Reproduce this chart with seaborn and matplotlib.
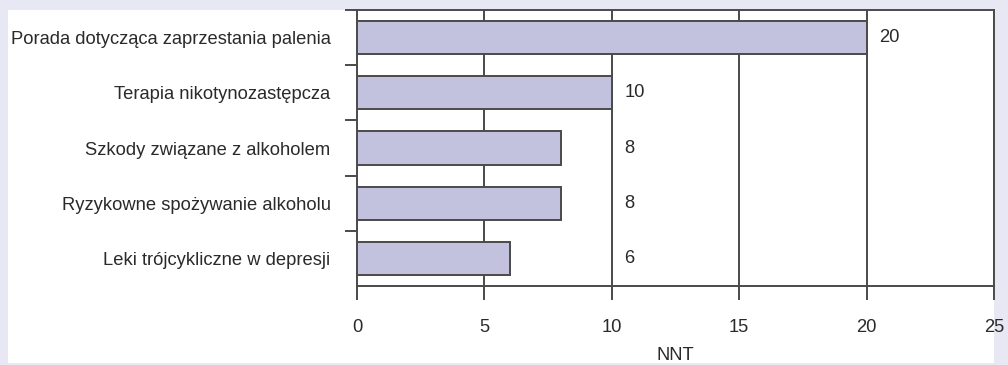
import matplotlib
matplotlib.use("Agg")
import matplotlib.pyplot as plt
from matplotlib.patches import Rectangle
import seaborn as sns
import pandas as pd

# NNT values for brief interventions in primary care
categories = [
    "Porada dotycząca zaprzestania palenia",
    "Terapia nikotynozastępcza",
    "Szkody związane z alkoholem",
    "Ryzykowne spożywanie alkoholu",
    "Leki trójcykliczne w depresji",
]
nnt = [20, 10, 8, 8, 6]
x_ticks = [0, 5, 10, 15, 20, 25]
x_label = "NNT"

df = pd.DataFrame({"category": categories, "nnt": nnt})

sns.set_theme(style="white")
plt.rcParams["font.family"] = ["Liberation Sans", "DejaVu Sans"]

BG = "#e8e8f4"
BAR = "#c2c2de"
INK = "#4a4a4a"
TXT = "#2a2a2a"
FS = 13.2

W, H = 1008, 365
fig = plt.figure(figsize=(W / 100, H / 100), dpi=100, facecolor=BG)

# white panel behind the chart
panel = Rectangle((8 / W, 2 / H), (994 - 8) / W, (355 - 2) / H,
                  transform=fig.transFigure, facecolor="white",
                  edgecolor="none", zorder=-10)
fig.add_artist(panel)

ax = fig.add_axes([357 / W, 1 - 286 / H, (994 - 357) / W, (286 - 10) / H])
ax.set_facecolor("white")

sns.barplot(data=df, x="nnt", y="category", orient="h", ax=ax,
            color=BAR, saturation=1, width=0.6,
            edgecolor=INK, linewidth=1.4, zorder=3)

ax.set_xlim(0, 25)
ax.set_ylim(4.5, -0.5)
ax.set_xticks(x_ticks)
ax.set_xticklabels([str(t) for t in x_ticks], fontsize=FS, color=TXT)
ax.set_xlabel(x_label, fontsize=FS, color=TXT, labelpad=8)
ax.set_ylabel("")

# vertical grid
for t in x_ticks[1:]:
    ax.axvline(t, color=INK, lw=1.4, zorder=1)

# category labels with boundary ticks between them
ax.tick_params(axis="y", which="major", left=False, length=0, pad=19,
               labelsize=FS, labelcolor=TXT)
ax.set_yticks([i - 0.5 for i in range(len(categories))], minor=True)
ax.tick_params(axis="y", which="minor", left=True, direction="out",
               length=9, width=1.4, color=INK)
ax.tick_params(axis="x", which="major", bottom=True, direction="out",
               length=10, width=1.4, color=INK, pad=14)

for s in ax.spines.values():
    s.set_color(INK)
    s.set_linewidth(1.4)
    s.set_visible(True)

# value labels
for i, v in enumerate(nnt):
    ax.text(max(v, 10) + 0.5, i, str(v), va="center", ha="left",
            fontsize=FS, color=TXT, zorder=4)

fig.savefig("out.png", dpi=100, facecolor=BG)
